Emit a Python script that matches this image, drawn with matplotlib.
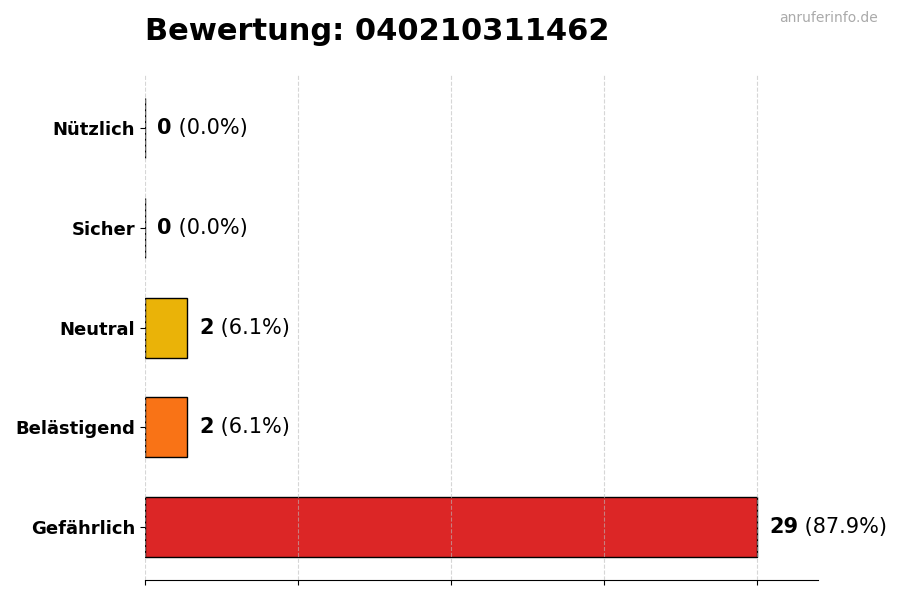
import matplotlib
matplotlib.use("Agg")
import numpy as np
import matplotlib.pyplot as plt

# ratings, bottom to top
categories = ["Gefährlich", "Belästigend", "Neutral", "Sicher", "Nützlich"]
counts = [29, 2, 2, 0, 0]
colors = ["#dc2626", "#f97316", "#eab308", "#16a34a", "#2563eb"]
number = "040210311462"

total = sum(counts)
max_val = max(counts)

fig, ax = plt.subplots(figsize=(9, 6), dpi=100)
fig.subplots_adjust(left=0.161, right=0.909, top=0.875, bottom=0.033)

y = np.arange(len(categories))
ax.barh(y, counts, height=0.6, color=colors, edgecolor="black", linewidth=1)

ax.set_yticks(y)
ax.set_yticklabels(categories, fontsize=13, fontweight="bold")
ax.set_xlim(0, max_val * 1.1)
ax.set_xticks(np.linspace(0, max_val, 5))
ax.set_xticklabels([])

ax.grid(axis="x", linestyle="--", color="#bbbbbb", alpha=0.6, linewidth=0.8)
ax.set_axisbelow(False)
for s in ["top", "right", "left"]:
    ax.spines[s].set_visible(False)

# value labels: bold count followed by percentage
offset = max_val * 0.02
for yi, c in zip(y, counts):
    pct = c / total * 100 if total else 0
    t = ax.text(c + offset, yi, f"{c}", fontsize=15, fontweight="bold",
                va="center", ha="left")
    ax.annotate(f" ({pct:.1f}%)", xy=(1, 0.5), xycoords=t, fontsize=15,
                va="center", ha="left")

ax.set_title(f"Bewertung: {number}", loc="left", fontsize=22,
             fontweight="bold", pad=25)
fig.text(0.975, 0.97, "anruferinfo.de", ha="right", va="center",
         fontsize=10, color="#aaaaaa")

fig.savefig("out.png", dpi=100)
